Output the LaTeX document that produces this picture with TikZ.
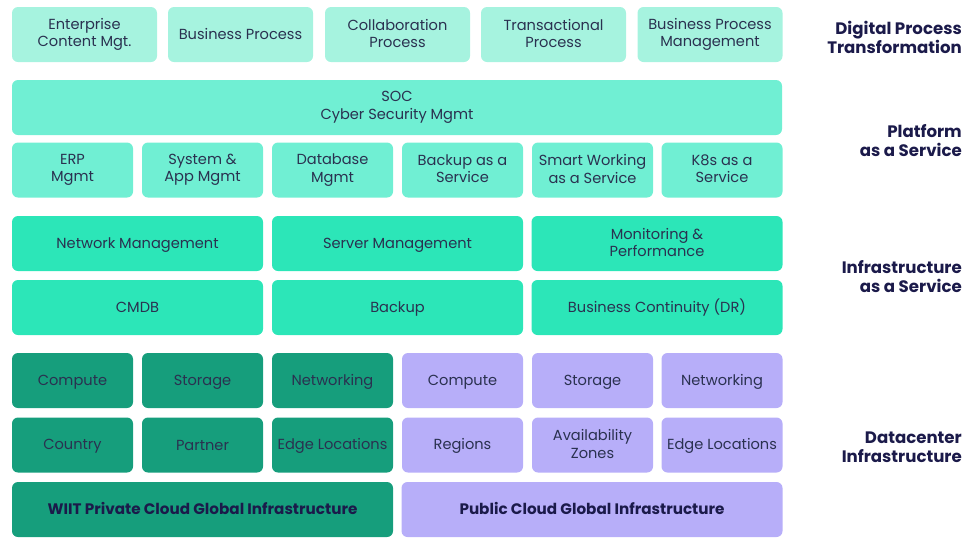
\documentclass[tikz,border=0pt]{standalone}
\usepackage{fontspec}
\setmainfont{Poppins}
\usetikzlibrary{positioning}
\definecolor{inkblue}{HTML}{2A3150}
\definecolor{navy}{HTML}{1B1A4A}
\definecolor{mintpale}{HTML}{A6F3DF}
\definecolor{mintsoft}{HTML}{70EFD3}
\definecolor{mintfull}{HTML}{2CE6B8}
\definecolor{wiitgreen}{HTML}{169E7C}
\definecolor{lavender}{HTML}{B7AEF9}
\newcommand{\boxstrut}{\rule[-2.5pt]{0pt}{15.5pt}}
\tikzstyle{block} = [rectangle, rounded corners=6pt, inner sep=0pt, align=center, text=inkblue, font=\fontsize{14.6}{17.5}\selectfont, minimum height=55pt, execute at begin node=\boxstrut, execute at end node=\boxstrut]
\tikzstyle{dptbox} = [block, fill=mintpale, minimum width=145pt]
\tikzstyle{paasbox} = [block, fill=mintsoft, minimum width=121pt]
\tikzstyle{iaasbox} = [block, fill=mintfull, minimum width=251pt]
\tikzstyle{privbox} = [block, fill=wiitgreen, minimum width=121pt]
\tikzstyle{pubbox} = [block, fill=lavender, minimum width=121pt]
\tikzstyle{cloudbox} = [minimum width=381pt, text=navy, font=\fontsize{15.2}{17}\selectfont\bfseries]
\tikzstyle{layer} = [anchor=east, align=right, inner sep=0pt, text=navy, font=\fontsize{16.6}{19}\selectfont\bfseries]

\begin{document}
\begin{tikzpicture}[x=1pt, y=-1pt]
	\useasboundingbox (0,0) rectangle (973,539);
	% digital process transformation
	\node [dptbox] (ecm) at (84.5,34.5) {Enterprise\\Content Mgt.};
	\node [dptbox] (bp) at (240.5,34.5) {Business Process};
	\node [dptbox] (collab) at (397.5,34.5) {Collaboration\\Process};
	\node [dptbox] (trans) at (553.5,34.5) {Transactional\\Process};
	\node [dptbox] (bpm) at (710,34.5) {Business Process\\Management};
	% platform as a service
	\node [paasbox, minimum width=770pt] (soc) at (397,107.5) {SOC\\Cyber Security Mgmt};
	\node [paasbox] (erp) at (72.5,170) {ERP\\Mgmt};
	\node [paasbox] (sysapp) at (202.5,170) {System \&\\App Mgmt};
	\node [paasbox] (db) at (332.5,170) {Database\\Mgmt};
	\node [paasbox] (baas) at (462.5,170) {Backup as a\\Service};
	\node [paasbox] (swaas) at (592.5,170) {Smart Working\\as a Service};
	\node [paasbox] (k8s) at (722,170) {K8s as a\\Service};
	% infrastructure as a service
	\node [iaasbox] (netmgmt) at (137.5,243.5) {Network Management};
	\node [iaasbox] (srvmgmt) at (397.5,243.5) {Server Management};
	\node [iaasbox] (monit) at (657,243.5) {Monitoring \&\\Performance};
	\node [iaasbox] (cmdb) at (137.5,307.5) {CMDB};
	\node [iaasbox] (backup) at (397.5,307.5) {Backup};
	\node [iaasbox] (bc) at (657,307.5) {Business Continuity (DR)};
	% datacenter infrastructure
	\node [privbox] (wcomp) at (72.5,380.5) {Compute};
	\node [privbox] (wstor) at (202.5,380.5) {Storage};
	\node [privbox] (wnet) at (332.5,380.5) {Networking};
	\node [pubbox] (pcomp) at (462.5,380.5) {Compute};
	\node [pubbox] (pstor) at (592.5,380.5) {Storage};
	\node [pubbox] (pnet) at (722,380.5) {Networking};
	\node [privbox] (country) at (72.5,445) {Country};
	\node [privbox] (partner) at (202.5,445) {Partner};
	\node [privbox] (wedge) at (332.5,445) {Edge Locations};
	\node [pubbox] (regions) at (462.5,445) {Regions};
	\node [pubbox] (az) at (592.5,445) {Availability\\Zones};
	\node [pubbox] (pedge) at (722,445) {Edge Locations};
	\node [privbox, cloudbox] (wiit) at (202.5,509.5) {WIIT Private Cloud Global Infrastructure};
	\node [pubbox, cloudbox] (public) at (592,509.5) {Public Cloud Global Infrastructure};
	% layer labels
	\node [layer] (ldpt) at (962,37) {Digital Process\\Transformation};
	\node [layer] (lpaas) at (962,141) {Platform\\as a Service};
	\node [layer] (liaas) at (962,277) {Infrastructure\\as a Service};
	\node [layer] (ldc) at (962,447) {Datacenter\\Infrastructure};
\end{tikzpicture}
\end{document}
